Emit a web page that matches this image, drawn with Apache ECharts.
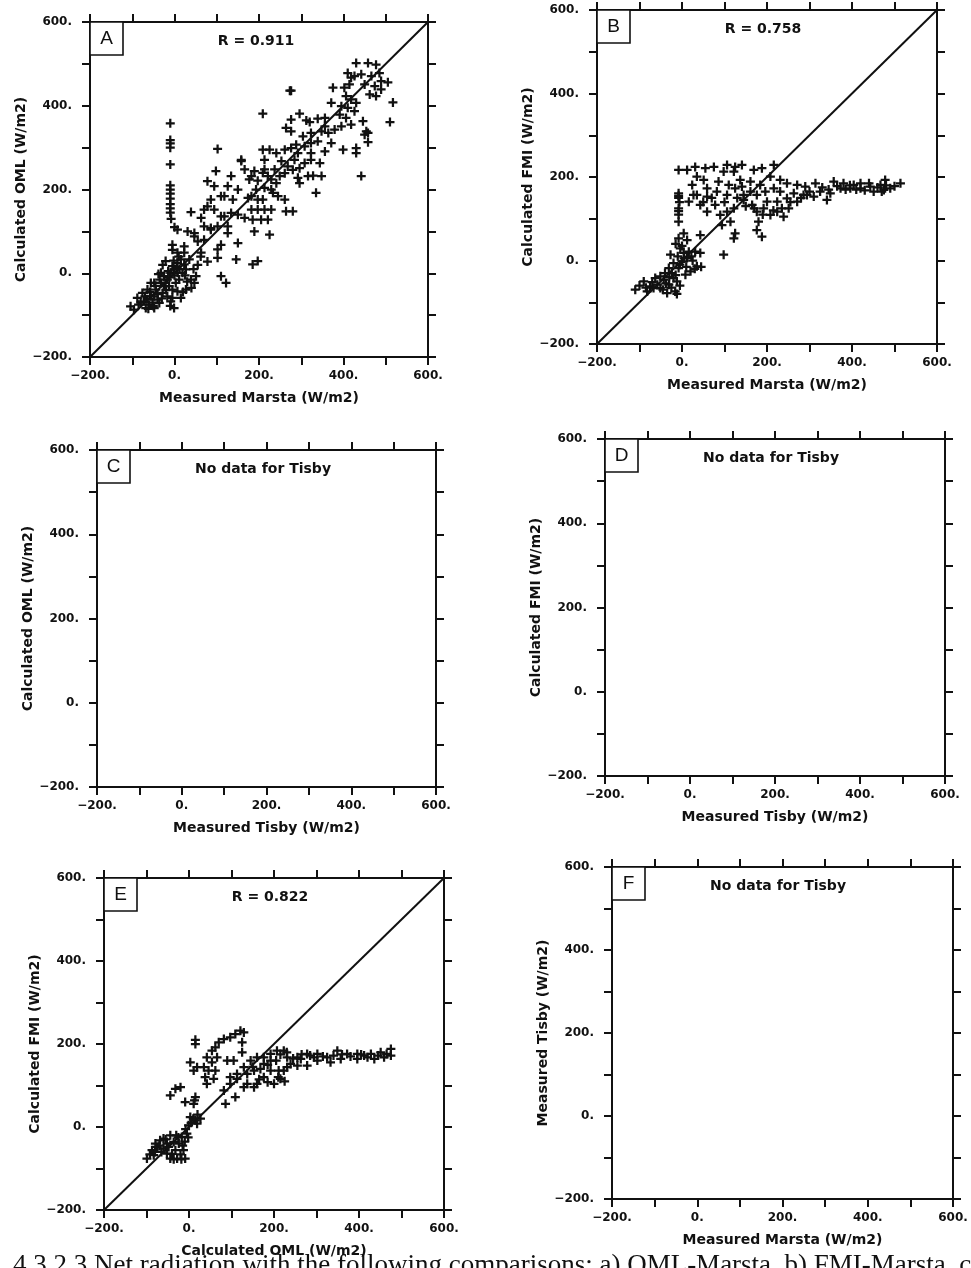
<!DOCTYPE html>
<html><head><meta charset="utf-8">
<script src="https://cdn.jsdelivr.net/npm/echarts@6/dist/echarts.min.js"></script>
<style>html,body{margin:0;padding:0;background:#fff}#c{width:971px;height:1268px}</style>
</head><body><div id="c"></div>
<script>
// ---------- data ----------
const panelLetters = ['A', 'B', 'C', 'D', 'E', 'F'];
const xAxisNames = ['Measured Marsta (W/m2)', 'Measured Marsta (W/m2)', 'Measured Tisby (W/m2)', 'Measured Tisby (W/m2)', 'Calculated OML (W/m2)', 'Measured Marsta (W/m2)'];
const yAxisNames = ['Calculated OML (W/m2)', 'Calculated FMI (W/m2)', 'Calculated OML (W/m2)', 'Calculated FMI (W/m2)', 'Calculated FMI (W/m2)', 'Measured Tisby (W/m2)'];
const panelNotes = ['R = 0.911', 'R = 0.758', 'No data for Tisby', 'No data for Tisby', 'R = 0.822', 'No data for Tisby'];
const labeledTicks = [-200, 0, 200, 400, 600];
const axisMin = -200, axisMax = 600, axisStep = 100;
const diagonal = [[-200, -200], [600, 600]];
const captionText = '4.3.2.3 Net radiation with the following comparisons: a) OML-Marsta, b) FMI-Marsta, c)';

const pointsA = [
[-10,358],[-10,318],[-10,310],[-10,300],[-10,260],[-10,210],[-10,200],[-10,190],[-10,178],[-10,165],[-10,155],[-10,145],[-8,130],[0,110],
[430,502],[458,502],[477,498],[410,478],[418,467],[426,471],[442,475],[485,478],[466,471],[489,459],[505,456],[402,443],[375,443],[414,451],[450,451],[474,447],[489,439],[462,427],[477,423],[517,408],[406,423],[418,415],[430,407],[371,407],[395,399],[410,395],[426,387],[510,361],[391,379],[406,371],[356,371],[418,355],[446,363],[395,351],[379,343],[454,339],[458,335],[450,331],[430,299],[430,287],[399,295],[458,313],[442,232],
[276,436],[273,436],[209,381],[276,367],[296,381],[312,365],[320,361],[339,369],[356,351],[348,339],[364,335],[371,311],[323,335],[304,327],[276,339],[264,347],[339,315],[356,291],[323,311],[308,303],[288,307],[276,299],[261,295],[292,287],[323,287],[344,263],[323,271],[308,263],[296,251],[284,271],[268,255],[261,239],[280,247],[296,215],[316,232],[328,233],[348,232],[335,192],[292,228],[253,268],[241,287],[225,295],[213,271],[209,295],[237,248],[249,232],[241,215],[229,224],[213,248],[221,232],[209,240],[189,244],[182,232],[166,248],[158,268],[177,224],[197,221],[229,200],[245,184],[261,176],[280,148],[264,148],[233,192],[213,204],[193,200],[182,184],[197,176],[209,176],[174,180],[182,152],[197,152],[213,152],[229,152],[185,128],[205,128],[221,128],[189,100],[225,92],[166,132],[150,140],[134,144],[118,136],[126,112],[102,112],[86,108],[110,136],[94,152],[78,160],[70,152],[86,176],[78,220],[94,208],[98,244],[102,297],[158,271],[134,232],[126,208],[150,200],[138,176],[118,184],[110,184],[39,146],[63,132],[70,112],[126,96],[86,104],[110,68],[102,57],[78,28],[63,49],[102,37],[146,33],[150,72],[185,21],[197,29],[110,-7],[122,-23],[55,76],[47,88],[31,100],[47,96],[70,80],[23,64],[7,104],[-5,68],[-5,56],
[-104,-79],[-88,-59],[-72,-67],[-60,-75],[-48,-83],[-56,-55],[-44,-39],[-40,-63],[-28,-47],[-25,-31],[-17,-15],[-25,-7],[-9,1],[-1,9],[7,25],[15,33],[23,21],[35,33],[-5,-39],[-5,-59],[-1,-83],[15,-59],[27,-39],[39,-15],[47,-23],[51,-7],[11,-15],[-21,29],[-32,1],[-48,-23],[-64,-39],[-76,-47],[-68,-83],[-36,-71],[-17,-55],[-13,-31],[3,-23],[19,1],[27,9],[7,49],[23,49],[-96,-87],[7,-43],[-9,-67],[-48,-55],[-32,-23],[-21,-23],[7,1],[-5,17],[-56,-23],
[-80,-70],[-65,-62],[-52,-70],[-40,-50],[-30,-60],[-20,-40],[-12,-10],[0,-5],[5,15],[12,10],[-15,5],[-35,-15],[-45,-30],[-58,-45],[-70,-55],[-85,-75],[-62,-85],[-50,-78],[-10,-78],[30,-20],[40,-35],[20,-45],[-2,30],[10,40],[25,-5],[45,10],[55,20],[62,40],[-28,20],[-38,-2]
];

const pointsB = [
[-110,-70],[-90,-50],[-75,-62],[-63,-42],[-51,-66],[-43,-46],[-31,-58],[-24,-30],[-16,-74],[-12,-50],[-8,-18],[0,-2],[4,18],[16,21],[31,21],[43,18],[35,-14],[20,-26],[8,-34],[-20,-6],[-4,29],[-8,53],[4,65],[12,49],[43,61],[-27,14],[-67,-66],[-82,-74],[-35,-78],[-51,-38],[-20,-42],[12,6],[-31,-18],
[-100,-60],[-85,-65],[-70,-52],[-58,-58],[-45,-70],[-38,-55],[-25,-65],[-12,-80],[-5,-60],[-15,-35],[-30,-40],[-40,-30],[-5,-10],[10,-15],[25,0],[22,10],[5,5],[-10,10],[0,35],[-15,40],[30,-20],[45,-15],
[-8,161],[-8,155],[-8,150],[-8,125],[-8,118],[-8,110],[-8,93],[-6,140],
[-8,217],[12,217],[31,224],[55,221],[75,224],[106,229],[125,224],[141,229],[122,213],[98,213],[35,201],[24,181],[51,193],[86,189],[110,181],[141,177],[169,217],[188,221],[216,229],[208,201],[231,193],[247,185],[271,181],[290,177],[314,185],[325,165],[357,189],[380,185],[404,181],[420,185],[443,177],[467,181],[478,193],[490,173],[514,185],[475,169],[451,165],[420,173],[396,173],[373,173],[349,161],[341,145],[310,153],[286,157],[263,161],[247,149],[271,141],[294,157],[231,165],[216,173],[196,165],[176,157],[161,165],[145,157],[125,173],[106,157],[82,165],[59,153],[35,157],[16,141],[43,133],[59,117],[78,133],[90,109],[106,117],[122,125],[145,145],[165,133],[176,117],[192,125],[208,109],[224,117],[239,105],[251,125],[200,141],[224,141],[180,93],[114,93],[94,85],[176,73],[188,57],[125,65],[122,53],[98,14],[27,157],[59,173],[137,193],[161,189],[184,181],
[330,175],[345,170],[365,178],[385,170],[410,170],[430,168],[440,185],[460,175],[480,180],[500,178],[470,165],[395,180],[300,165],[280,150],[255,140],[235,125],[215,120],[190,110],[170,125],[150,130],[130,150],[100,140],[70,150],[50,140]
];

const pointsE = [
[-99,-76],[-87,-56],[-79,-40],[-68,-32],[-60,-52],[-52,-64],[-44,-76],[-28,-76],[-9,-76],[-13,-56],[-32,-56],[-24,-40],[-17,-24],[-5,-16],[-44,-20],[-60,-28],[-75,-48],[-36,-36],[-52,-40],[-83,-68],
[-92,-66],[-80,-60],[-70,-45],[-65,-60],[-55,-30],[-48,-48],[-40,-65],[-36,-78],[-20,-66],[-18,-78],[-15,-45],[-25,-25],[-10,-35],[-8,-5],[-30,-20],[-2,-25],
[-1,4],[3,24],[15,16],[27,20],[19,8],[11,56],[15,72],[13,64],[-9,60],[-44,76],[-32,92],[-20,96],[15,210],[15,200],[3,156],[19,144],[11,136],[35,144],[42,168],[54,184],[62,192],[70,204],[82,212],[97,216],[109,224],[121,232],[129,228],[125,204],[125,180],[105,160],[90,160],[66,168],[54,156],[46,136],[38,120],[42,104],[58,116],[62,136],[82,88],[86,56],[109,72],[97,120],[113,128],[129,144],[145,160],[160,168],[176,168],[192,176],[207,184],[223,184],[231,168],[255,168],[278,176],[302,176],[325,168],[349,184],[372,176],[396,176],[412,172],[428,176],[451,180],[475,188],[475,172],[459,168],[436,164],[396,164],[357,164],[333,156],[302,160],[278,148],[255,148],[231,144],[211,136],[192,136],[176,120],[160,104],[153,96],[137,104],[129,96],[113,116],[200,104],[215,116],[223,136],[239,152],[263,164],[294,168],[192,160],[176,152],[153,136],[137,128],[97,104],
[215,175],[230,180],[245,165],[285,172],[315,170],[340,172],[380,170],[420,168],[445,172],[465,176],[405,175],[360,175],[265,175],[205,160],[185,150],[168,140],[210,120],[225,110],[185,108],[165,115],[150,145],[10,20],[20,30],[5,10]
];

const panelPoints = [pointsA, pointsB, null, null, pointsE, null];

// ---------- layout / style ----------
const grids = [
  {left: 90, top: 22, width: 338, height: 335},
  {left: 597, top: 10, width: 340, height: 334},
  {left: 97, top: 450, width: 339, height: 337},
  {left: 605, top: 439, width: 340, height: 337},
  {left: 104, top: 878, width: 340, height: 332},
  {left: 612, top: 867, width: 341, height: 332}
];
const INK = '#111';
const FONT = '"DejaVu Sans", sans-serif';
const plusSymbol = 'path://M3,0h2v3h3v2h-3v3h-2v-3h-3v-2h3z';

function fmt(v) {
  if (!labeledTicks.includes(v)) return '';
  return (v < 0 ? '\u2212' + Math.abs(v) : String(v)) + '.';
}
const tickStyle = {show: true, inside: false, length: 8, lineStyle: {color: INK, width: 2}};
const lineStyleAxis = {show: true, onZero: false, lineStyle: {color: INK, width: 2}};
const labelStyle = {color: INK, fontFamily: FONT, fontWeight: 'bold', fontSize: 12};
const nameStyle = {color: INK, fontFamily: FONT, fontWeight: 'bold', fontSize: 14};

const xAxes = [], yAxes = [], series = [], graphics = [];
grids.forEach((g, i) => {
  const base = {type: 'value', gridIndex: i, min: axisMin, max: axisMax, interval: axisStep,
    splitLine: {show: false}, axisLine: lineStyleAxis, axisTick: tickStyle};
  xAxes.push(Object.assign({}, base, {position: 'bottom', name: xAxisNames[i], nameLocation: 'middle', nameGap: 34,
    nameTextStyle: nameStyle, axisLabel: Object.assign({margin: 13, formatter: fmt}, labelStyle)}));
  xAxes.push(Object.assign({}, base, {position: 'top', axisLabel: {show: false}}));
  yAxes.push(Object.assign({}, base, {position: 'left', name: yAxisNames[i], nameLocation: 'middle', nameGap: 61,
    nameTextStyle: nameStyle, axisLabel: Object.assign({margin: 18, formatter: fmt}, labelStyle)}));
  yAxes.push(Object.assign({}, base, {position: 'right', axisLabel: {show: false}}));

  if (panelPoints[i]) {
    series.push({type: 'line', xAxisIndex: 2 * i, yAxisIndex: 2 * i, data: diagonal, showSymbol: false,
      lineStyle: {color: INK, width: 2}, silent: true, z: 2});
    series.push({type: 'scatter', xAxisIndex: 2 * i, yAxisIndex: 2 * i, data: panelPoints[i],
      symbol: plusSymbol, symbolSize: 9, itemStyle: {color: INK, opacity: 1}, silent: true, z: 3});
  }
  graphics.push({type: 'rect', shape: {x: g.left, y: g.top, width: 33, height: 33},
    style: {fill: '#fff', stroke: INK, lineWidth: 1.6}, z: 10});
  graphics.push({type: 'text', x: g.left + 16.5, y: g.top + 17, z: 11,
    style: {text: panelLetters[i], align: 'center', verticalAlign: 'middle', font: '19px "Liberation Sans", sans-serif', fill: INK}});
  graphics.push({type: 'text', x: g.left + 166, y: g.top + 19, z: 11,
    style: {text: panelNotes[i], align: 'center', verticalAlign: 'middle', font: 'bold 14px ' + FONT, fill: INK}});
});
graphics.push({type: 'text', x: 13, y: 1252, z: 11,
  style: {text: captionText, align: 'left', verticalAlign: 'top', font: '27px "Liberation Serif", serif', fill: INK}});

const chart = echarts.init(document.getElementById('c'), null, {renderer: 'canvas'});
chart.setOption({
  animation: false,
  backgroundColor: '#fff',
  grid: grids.map(g => Object.assign({outerBoundsMode: 'none', containLabel: false}, g)),
  xAxis: xAxes,
  yAxis: yAxes,
  series: series,
  graphic: graphics
});
</script>
</body></html>
